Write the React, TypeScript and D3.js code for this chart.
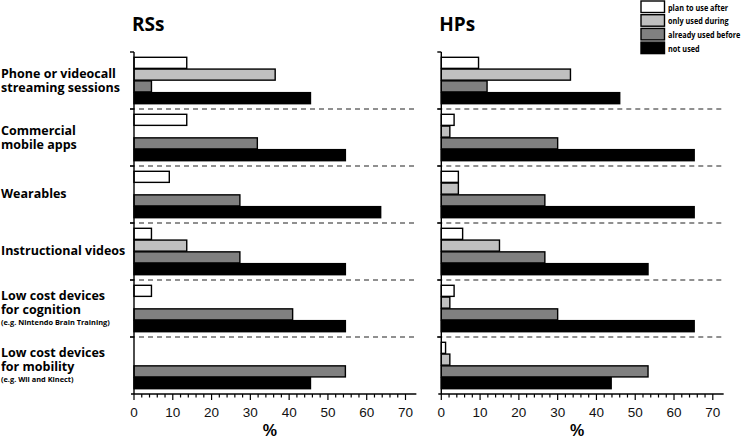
import React from "react";
import * as d3 from "d3";

const width = 750;
const height = 439;

const categories = [
  ["Phone or videocall", "streaming sessions"],
  ["Commercial", "mobile apps"],
  ["Wearables"],
  ["Instructional videos"],
  ["Low cost devices", "for cognition"],
  ["Low cost devices", "for mobility"],
];
const subLabels = ["", "", "", "", "(e.g. Nintendo Brain Training)", "(e.g. Wii and Kinect)"];

const seriesKeys = ["plan to use after", "only used during", "already used before", "not used"];
const seriesFill = ["#ffffff", "#c0c0c0", "#808080", "#000000"];

// RSs, one array per series (percent)
const rsPlanAfter = [13.6, 13.6, 9.1, 4.5, 4.5, 0];
const rsOnlyDuring = [36.4, 0, 0, 13.6, 0, 0];
const rsUsedBefore = [4.5, 31.8, 27.3, 27.3, 40.9, 54.5];
const rsNotUsed = [45.5, 54.5, 63.6, 54.5, 54.5, 45.5];

// HPs
const hpPlanAfter = [9.6, 3.3, 4.4, 5.5, 3.3, 1.1];
const hpOnlyDuring = [33.3, 2.2, 4.4, 15.0, 2.2, 2.2];
const hpUsedBefore = [11.8, 30.0, 26.7, 26.7, 30.0, 53.3];
const hpNotUsed = [46.0, 65.2, 65.2, 53.3, 65.2, 43.8];

const xTicks = [0, 10, 20, 30, 40, 50, 60, 70];

const panels = [
  { title: "RSs", x0: 134, series: [rsPlanAfter, rsOnlyDuring, rsUsedBefore, rsNotUsed] },
  { title: "HPs", x0: 441.3, series: [hpPlanAfter, hpOnlyDuring, hpUsedBefore, hpNotUsed] },
];

const labelFont = "'Open Sans', 'Noto Sans', sans-serif";
const tickFont = "'Liberation Sans', Arial, sans-serif";

const yGroup = d3
  .scaleBand<number>()
  .domain(d3.range(categories.length))
  .range([52, 394])
  .padding(0);

const yBar = d3
  .scaleBand<number>()
  .domain(d3.range(seriesKeys.length))
  .range([0, yGroup.bandwidth()])
  .paddingInner(0.06)
  .paddingOuter(0.45);

function Panel({ title, x0, series }) {
  const x = d3.scaleLinear().domain([0, 70]).range([x0, x0 + 271.5]);
  const minor = d3.range(0, 72, 2);
  const axisY = yGroup.range()[1];
  return (
    <g>
      <text x={x0 - 2} y={31} fontFamily={labelFont} fontWeight="bold" fontSize={19}>
        {title}
      </text>

      {/* group separators */}
      {d3.range(1, categories.length).map((i) => (
        <line
          key={i}
          x1={x0 - 4}
          x2={x(72.5)}
          y1={yGroup(i)}
          y2={yGroup(i)}
          stroke="#222"
          strokeWidth={1.2}
          strokeDasharray="5,4"
        />
      ))}

      {/* bars */}
      {categories.map((_, gi) =>
        series.map((vals, si) =>
          vals[gi] > 0 ? (
            <rect
              key={`${gi}-${si}`}
              x={x(0)}
              y={yGroup(gi) + yBar(si)}
              width={x(vals[gi]) - x(0)}
              height={yBar.bandwidth()}
              fill={seriesFill[si]}
              stroke="#000"
              strokeWidth={1.4}
            />
          ) : null
        )
      )}

      {/* y axis */}
      <line x1={x0} x2={x0} y1={52} y2={axisY} stroke="#000" strokeWidth={1.4} />
      {d3.range(0, categories.length).map((i) => (
        <line key={i} x1={x0 - 4} x2={x0} y1={yGroup(i)} y2={yGroup(i)} stroke="#000" strokeWidth={1.4} />
      ))}

      {/* x axis */}
      <line x1={x0 - 3} x2={x(72.8)} y1={axisY} y2={axisY} stroke="#000" strokeWidth={1.4} />
      {minor.map((t) => (
        <line
          key={t}
          x1={x(t)}
          x2={x(t)}
          y1={axisY}
          y2={axisY + (t % 10 === 0 ? 6 : 3.5)}
          stroke="#000"
          strokeWidth={1.2}
        />
      ))}
      {xTicks.map((t) => (
        <text
          key={t}
          x={x(t)}
          y={417}
          textAnchor="middle"
          fontFamily={tickFont}
          fontSize={13.5}
          fill="#111"
        >
          {t}
        </text>
      ))}
      <text
        x={x(35)}
        y={436}
        textAnchor="middle"
        fontFamily={tickFont}
        fontWeight="bold"
        fontSize={16}
      >
        %
      </text>
    </g>
  );
}

export default function App() {
  return (
    <svg width={width} height={height} style={{ position: "absolute", left: 0, top: 0, background: "#fff" }}>
      {/* category labels */}
      {categories.map((lines, gi) => {
        const sub = subLabels[gi];
        const n = lines.length + (sub ? 0.85 : 0);
        const cy = yGroup(gi) + yGroup.bandwidth() / 2;
        const top = cy - (n * 14) / 2 + 11 - (lines.length === 1 ? 1 : 0);
        return (
          <g key={gi}>
            {lines.map((l, li) => (
              <text
                key={li}
                x={1}
                y={top + li * 14}
                fontFamily={labelFont}
                fontWeight="bold"
                fontSize={12.5}
                fill="#000"
              >
                {l}
              </text>
            ))}
            {sub && (
              <text
                x={1}
                y={top + lines.length * 14 - 2.5}
                fontFamily={labelFont}
                fontWeight="bold"
                fontSize={7.4}
              >
                {sub}
              </text>
            )}
          </g>
        );
      })}

      {panels.map((p) => (
        <Panel key={p.title} {...p} />
      ))}

      {/* legend */}
      {seriesKeys.map((k, i) => (
        <g key={k} transform={`translate(641, ${1 + i * 13.7})`}>
          <rect width={23.5} height={11.5} fill={seriesFill[i]} stroke="#000" strokeWidth={1.4} />
          <text
            transform="translate(27, 9.5) scale(0.76, 1)"
            fontFamily={labelFont}
            fontWeight="bold"
            fontSize={9.6}
          >
            {k}
          </text>
        </g>
      ))}
    </svg>
  );
}
